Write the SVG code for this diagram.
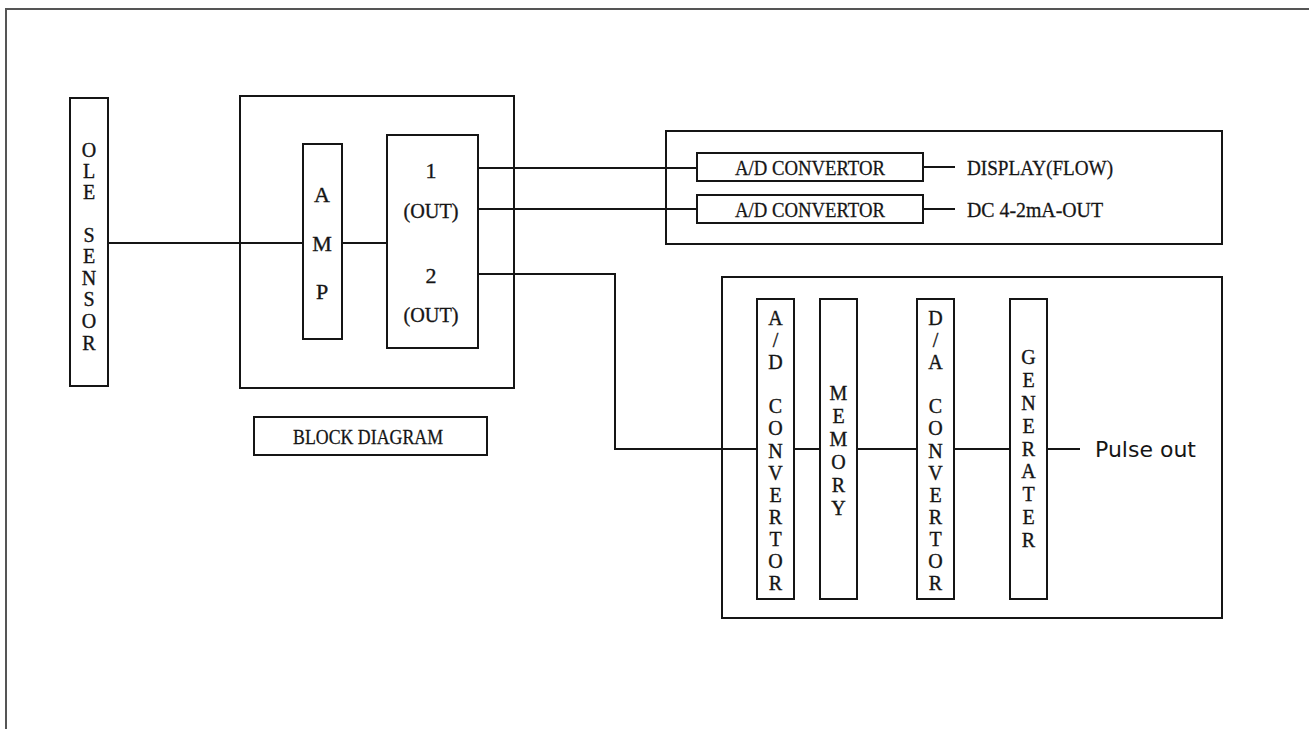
<svg xmlns="http://www.w3.org/2000/svg" width="1309" height="729" viewBox="0 0 1309 729">
<style>
  .box{fill:none;stroke:#151515;stroke-width:2}
  .wire{fill:none;stroke:#151515;stroke-width:2}
  .frame{fill:none;stroke:#555;stroke-width:2}
  .t{font-family:"Liberation Serif","Times New Roman",serif;font-size:22px;fill:#151515;stroke:#151515;stroke-width:0.3}
  .v{font-family:"Liberation Serif","Times New Roman",serif;font-size:20px;fill:#151515;stroke:#151515;stroke-width:0.35;text-anchor:middle}
  .s{font-family:"DejaVu Sans","Liberation Sans",sans-serif;font-size:22px;fill:#151515}
</style>
<rect x="0" y="0" width="1309" height="729" fill="#fff"/>
<path class="frame" d="M6,729 V9 H1309"/>

<g id="connectors">
  <path class="wire" d="M108,243 H303"/>
  <path class="wire" d="M342,243 H387"/>
  <path class="wire" d="M478,168 H697"/>
  <path class="wire" d="M478,209 H697"/>
  <path class="wire" d="M478,274 H615 V449 H757"/>
  <path class="wire" d="M923,167 H955"/>
  <path class="wire" d="M923,209 H955"/>
  <path class="wire" d="M794,449 H820"/>
  <path class="wire" d="M857,449 H917"/>
  <path class="wire" d="M954,449 H1010"/>
  <path class="wire" d="M1047,449 H1080"/>
</g>

<g id="ole-sensor">
  <rect class="box" x="70" y="98" width="38" height="288"/>
  <text class="v"><tspan x="89" y="157">O</tspan><tspan x="89" y="178">L</tspan><tspan x="89" y="199">E</tspan><tspan x="89" y="242">S</tspan><tspan x="89" y="263">E</tspan><tspan x="89" y="285">N</tspan><tspan x="89" y="306">S</tspan><tspan x="89" y="328">O</tspan><tspan x="89" y="350">R</tspan></text>
</g>

<g id="block">
  <rect class="box" x="240" y="96" width="274" height="292"/>
</g>

<g id="amp">
  <rect class="box" x="303" y="144" width="39" height="195"/>
  <text class="v" style="font-size:22px"><tspan x="322" y="202">A</tspan><tspan x="322" y="251">M</tspan><tspan x="322" y="299">P</tspan></text>
</g>

<g id="out">
  <rect class="box" x="387" y="135" width="91" height="213"/>
  <text class="v" style="font-size:22px" x="431" y="178">1</text>
  <text class="v" style="font-size:22px" x="431" y="218" textLength="55" lengthAdjust="spacingAndGlyphs">(OUT)</text>
  <text class="v" style="font-size:22px" x="431" y="283">2</text>
  <text class="v" style="font-size:22px" x="431" y="322" textLength="55" lengthAdjust="spacingAndGlyphs">(OUT)</text>
</g>

<g id="block-diagram-label">
  <rect class="box" x="254" y="417" width="233" height="38"/>
  <text class="t" x="293" y="444" textLength="150" lengthAdjust="spacingAndGlyphs">BLOCK DIAGRAM</text>
</g>

<g id="analog-out">
  <rect class="box" x="666" y="131" width="556" height="113"/>
</g>

<g id="ad1">
  <rect class="box" x="697" y="153" width="226" height="28"/>
  <text class="t" x="735" y="175" textLength="150" lengthAdjust="spacingAndGlyphs">A/D CONVERTOR</text>
</g>
<g id="ad2">
  <rect class="box" x="697" y="195" width="226" height="28"/>
  <text class="t" x="735" y="217" textLength="150" lengthAdjust="spacingAndGlyphs">A/D CONVERTOR</text>
</g>
<g id="display-label">
  <text class="t" x="967" y="175" textLength="146" lengthAdjust="spacingAndGlyphs">DISPLAY(FLOW)</text>
</g>
<g id="dc-label">
  <text class="t" x="967" y="217" textLength="136" lengthAdjust="spacingAndGlyphs">DC 4-2mA-OUT</text>
</g>

<g id="pulse-unit">
  <rect class="box" x="722" y="277" width="500" height="341"/>
</g>

<g id="ad3">
  <rect class="box" x="757" y="299" width="37" height="300"/>
  <text class="v"><tspan x="775.5" y="325">A</tspan><tspan x="775.5" y="347">/</tspan><tspan x="775.5" y="369">D</tspan><tspan x="775.5" y="413">C</tspan><tspan x="775.5" y="435">O</tspan><tspan x="775.5" y="458">N</tspan><tspan x="775.5" y="480">V</tspan><tspan x="775.5" y="502">E</tspan><tspan x="775.5" y="524">R</tspan><tspan x="775.5" y="546">T</tspan><tspan x="775.5" y="568">O</tspan><tspan x="775.5" y="590">R</tspan></text>
</g>

<g id="memory">
  <rect class="box" x="820" y="299" width="37" height="300"/>
  <text class="v"><tspan x="838.5" y="400">M</tspan><tspan x="838.5" y="423">E</tspan><tspan x="838.5" y="446">M</tspan><tspan x="838.5" y="469">O</tspan><tspan x="838.5" y="492">R</tspan><tspan x="838.5" y="515">Y</tspan></text>
</g>

<g id="da">
  <rect class="box" x="917" y="299" width="37" height="300"/>
  <text class="v"><tspan x="935.5" y="325">D</tspan><tspan x="935.5" y="347">/</tspan><tspan x="935.5" y="369">A</tspan><tspan x="935.5" y="413">C</tspan><tspan x="935.5" y="435">O</tspan><tspan x="935.5" y="458">N</tspan><tspan x="935.5" y="480">V</tspan><tspan x="935.5" y="502">E</tspan><tspan x="935.5" y="524">R</tspan><tspan x="935.5" y="546">T</tspan><tspan x="935.5" y="568">O</tspan><tspan x="935.5" y="590">R</tspan></text>
</g>

<g id="generater">
  <rect class="box" x="1010" y="299" width="37" height="300"/>
  <text class="v"><tspan x="1028.5" y="364">G</tspan><tspan x="1028.5" y="387">E</tspan><tspan x="1028.5" y="410">N</tspan><tspan x="1028.5" y="433">E</tspan><tspan x="1028.5" y="456">R</tspan><tspan x="1028.5" y="478">A</tspan><tspan x="1028.5" y="501">T</tspan><tspan x="1028.5" y="524">E</tspan><tspan x="1028.5" y="547">R</tspan></text>
</g>

<g id="pulse-label">
  <text class="s" x="1095" y="457">Pulse out</text>
</g>
</svg>
